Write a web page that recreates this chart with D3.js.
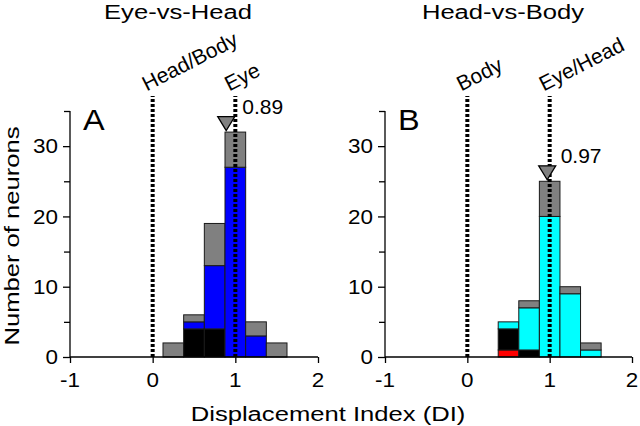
<!DOCTYPE html>
<html><head><meta charset="utf-8">
<script src="https://cdn.jsdelivr.net/npm/d3@7"></script>
<style>html,body{margin:0;padding:0;background:#fff;}svg{display:block;}</style>
</head><body>
<svg id="chart" width="640" height="426"></svg>
<script>
// ---- data ----
const binCenters = [0.25, 0.5, 0.75, 1.0, 1.25, 1.5];
const binWidth = 0.25;
const xTicks = [-1, 0, 1, 2];
const yTicks = [0, 10, 20, 30];
const yMinorTicks = [0, 5, 10, 15, 20, 25, 30, 35];

// Panel A: Eye-vs-Head (stack bottom -> top)
const aBlack = [0, 4, 4, 0, 0, 0];
const aBlue  = [0, 1, 9, 27, 3, 0];
const aGray  = [2, 1, 6, 5, 2, 2];
const aMean = 0.89;
const aRefLines = [0, 1];
const aRefLabels = ["Head/Body", "Eye"];

// Panel B: Head-vs-Body (stack bottom -> top)
const bRed   = [0, 1, 0, 0, 0, 0];
const bBlack = [0, 3, 1, 0, 0, 0];
const bCyan  = [0, 1, 6, 20, 9, 1];
const bGray  = [0, 0, 1, 5, 1, 1];
const bMean = 0.97;
const bRefLines = [0, 1];
const bRefLabels = ["Body", "Eye/Head"];

const titles = ["Eye-vs-Head", "Head-vs-Body"];
const panelLetters = ["A", "B"];
const xLabel = "Displacement Index (DI)";
const yLabel = "Number of neurons";

// ---- drawing ----
const svg = d3.select("#chart");
const FONT = "'Liberation Sans', Arial, sans-serif";

function txt(g, x, y, s, size, anchor, rot, sx) {
  return g.append("text")
    .attr("transform", `translate(${x},${y}) rotate(${rot||0}) scale(${sx||1},1)`)
    .attr("text-anchor", anchor || "start")
    .attr("font-family", FONT)
    .attr("font-size", size)
    .attr("fill", "#000")
    .text(s);
}

const y = d3.scaleLinear().domain([0, 35]).range([357, 111]);

function panel(opts) {
  const x = d3.scaleLinear().domain([-1, 2]).range(opts.xr);
  const g = svg.append("g");
  const layers = opts.layers;
  binCenters.forEach((c, i) => {
    let base = 0;
    layers.forEach(L => {
      const v = L.values[i];
      if (v > 0) {
        g.append("rect")
          .attr("x", x(c - binWidth / 2))
          .attr("width", x(c + binWidth / 2) - x(c - binWidth / 2))
          .attr("y", y(base + v))
          .attr("height", y(base) - y(base + v))
          .attr("fill", L.color)
          .attr("stroke", "#1a1a1a")
          .attr("stroke-width", 1);
      }
      base += v;
    });
  });
  // y axis
  const yAxis = d3.axisLeft(y).tickValues(yMinorTicks).tickSize(7).tickFormat("");
  const ya = g.append("g").attr("transform", `translate(${opts.xr[0]},0)`).call(yAxis);
  ya.select(".domain").attr("d", `M0,${y(0)}V${y(35)}`).attr("stroke", "#000").attr("stroke-width", 1.3);
  ya.selectAll(".tick line").attr("stroke", "#000").attr("stroke-width", 1.3)
    .attr("x2", d => yTicks.includes(d) ? -7 : -6);
  yTicks.forEach(t => txt(g, opts.xr[0] - 12, y(t) + 7.3, String(t), 19.5, "end", 0, 1.15));

  // x axis
  const xAxis = d3.axisBottom(x).tickValues(xTicks).tickSize(6).tickFormat("");
  const xa = g.append("g").attr("transform", `translate(0,${y(0)})`).call(xAxis);
  xa.select(".domain").attr("d", `M${opts.xr[0]},0H${opts.xr[1]}`).attr("stroke", "#000").attr("stroke-width", 1.3);
  xa.selectAll(".tick line").attr("stroke", "#000").attr("stroke-width", 1.3);
  xTicks.forEach(t => txt(g, x(t), 387, String(t), 19.5, "middle", 0, 1.15));

  // reference dashed lines + rotated labels
  opts.refLines.forEach((r, i) => {
    g.append("line")
      .attr("x1", x(r)).attr("x2", x(r))
      .attr("y1", y(0)).attr("y2", 96)
      .attr("stroke", "#000").attr("stroke-width", 4)
      .attr("stroke-dasharray", "3,2");
    txt(g, x(r) - 6, 91.5, opts.refLabels[i], 21, "start", -27, 1);
  });

  // mean triangle + value
  const total = binCenters.map((c, i) => layers.reduce((s, L) => s + L.values[i], 0));
  const mi = binCenters.findIndex(c => Math.abs(c - opts.mean) <= binWidth / 2);
  const apexY = y(total[mi]) - 1.5;
  const mx = x(opts.mean);
  g.append("path")
    .attr("d", `M${mx},${apexY} L${mx - 8.5},${apexY - 14} L${mx + 8.5},${apexY - 14} Z`)
    .attr("fill", "#808080").attr("stroke", "#000").attr("stroke-width", 1.3);
  txt(g, opts.meanLabelX(x), apexY - 17, opts.mean.toFixed(2), 21, "start", 0, 1);

  // title, panel letter
  txt(g, opts.titleX, 19, opts.title, 21, "middle", 0, 1.22);
  txt(g, opts.xr[0] + 13, 129.5, opts.letter, 29.5, "start", 0, 1.1);
}

panel({
  xr: [70, 318],
  layers: [{values: aBlack, color: "#000000"}, {values: aBlue, color: "#0000ff"}, {values: aGray, color: "#808080"}],
  refLines: aRefLines, refLabels: aRefLabels, mean: aMean,
  meanLabelX: x => x(1) + 7,
  title: titles[0], titleX: 178, letter: panelLetters[0]
});
panel({
  xr: [385, 632],
  layers: [{values: bRed, color: "#ff0000"}, {values: bBlack, color: "#000000"}, {values: bCyan, color: "#00ffff"}, {values: bGray, color: "#808080"}],
  refLines: bRefLines, refLabels: bRefLabels, mean: bMean,
  meanLabelX: x => x(1) + 11,
  title: titles[1], titleX: 503, letter: panelLetters[1]
});

txt(svg, 328, 421, xLabel, 21, "middle", 0, 1.22);
txt(svg, 19, 236, yLabel, 21, "middle", -90, 1.22);
</script>
</body></html>
